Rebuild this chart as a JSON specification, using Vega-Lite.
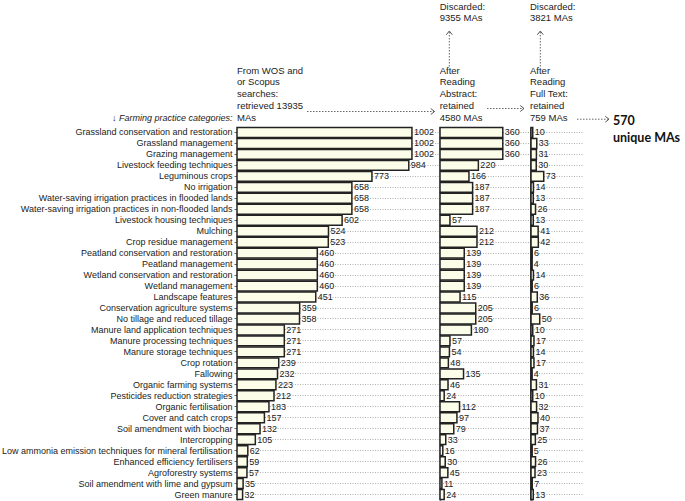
{
  "$schema": "https://vega.github.io/schema/vega-lite/v6.json",
  "padding": {"left": 1, "top": 1, "right": 0, "bottom": 0},
  "autosize": {"type": "pad"},
  "background": "white",
  "bounds": "flush",
  "spacing": 1,
  "config": {"view": {"stroke": null}, "font": "Liberation Sans"},
  "datasets": {
    "bars": [
      {"cat": "Grassland conservation and restoration", "v1": 1002, "v2": 360, "v3": 10},
      {"cat": "Grassland management", "v1": 1002, "v2": 360, "v3": 33},
      {"cat": "Grazing management", "v1": 1002, "v2": 360, "v3": 31},
      {"cat": "Livestock feeding techniques", "v1": 984, "v2": 220, "v3": 30},
      {"cat": "Leguminous crops", "v1": 773, "v2": 166, "v3": 73},
      {"cat": "No irrigation", "v1": 658, "v2": 187, "v3": 14},
      {"cat": "Water-saving irrigation practices in flooded lands", "v1": 658, "v2": 187, "v3": 13},
      {"cat": "Water-saving irrigation practices in non-flooded lands", "v1": 658, "v2": 187, "v3": 26},
      {"cat": "Livestock housing techniques", "v1": 602, "v2": 57, "v3": 13},
      {"cat": "Mulching", "v1": 524, "v2": 212, "v3": 41},
      {"cat": "Crop residue management", "v1": 523, "v2": 212, "v3": 42},
      {"cat": "Peatland conservation and restoration", "v1": 460, "v2": 139, "v3": 6},
      {"cat": "Peatland management", "v1": 460, "v2": 139, "v3": 4},
      {"cat": "Wetland conservation and restoration", "v1": 460, "v2": 139, "v3": 14},
      {"cat": "Wetland management", "v1": 460, "v2": 139, "v3": 6},
      {"cat": "Landscape features", "v1": 451, "v2": 115, "v3": 36},
      {"cat": "Conservation agriculture systems", "v1": 359, "v2": 205, "v3": 6},
      {"cat": "No tillage and reduced tillage", "v1": 358, "v2": 205, "v3": 50},
      {"cat": "Manure land application techniques", "v1": 271, "v2": 180, "v3": 10},
      {"cat": "Manure processing techniques", "v1": 271, "v2": 57, "v3": 17},
      {"cat": "Manure storage techniques", "v1": 271, "v2": 54, "v3": 14},
      {"cat": "Crop rotation", "v1": 239, "v2": 48, "v3": 17},
      {"cat": "Fallowing", "v1": 232, "v2": 135, "v3": 4},
      {"cat": "Organic farming systems", "v1": 223, "v2": 46, "v3": 31},
      {"cat": "Pesticides reduction strategies", "v1": 212, "v2": 24, "v3": 10},
      {"cat": "Organic fertilisation", "v1": 183, "v2": 112, "v3": 32},
      {"cat": "Cover and catch crops", "v1": 157, "v2": 97, "v3": 40},
      {"cat": "Soil amendment with biochar", "v1": 132, "v2": 79, "v3": 37},
      {"cat": "Intercropping", "v1": 105, "v2": 33, "v3": 25},
      {"cat": "Low ammonia emission techniques for mineral fertilisation", "v1": 62, "v2": 16, "v3": 5},
      {"cat": "Enhanced efficiency fertilisers", "v1": 59, "v2": 30, "v3": 26},
      {"cat": "Agroforestry systems", "v1": 57, "v2": 45, "v3": 23},
      {"cat": "Soil amendment with lime and gypsum", "v1": 35, "v2": 11, "v3": 7},
      {"cat": "Green manure", "v1": 32, "v2": 24, "v3": 13}
    ],
    "ann": [
      {"t": "From WOS and", "ax": 0, "ay": 56.3},
      {"t": "or Scopus", "ax": 0, "ay": 44.6},
      {"t": "searches:", "ax": 0, "ay": 32.9},
      {"t": "retrieved 13935", "ax": 0, "ay": 21.2},
      {"t": "MAs", "ax": 0, "ay": 9.5},
      {"t": "After", "ax": 202.7, "ay": 56.3},
      {"t": "Reading", "ax": 202.7, "ay": 44.6},
      {"t": "Abstract:", "ax": 202.7, "ay": 32.9},
      {"t": "retained", "ax": 202.7, "ay": 21.2},
      {"t": "4580 MAs", "ax": 202.7, "ay": 9.5},
      {"t": "After", "ax": 293, "ay": 56.3},
      {"t": "Reading", "ax": 293, "ay": 44.6},
      {"t": "Full Text:", "ax": 293, "ay": 32.9},
      {"t": "retained", "ax": 293, "ay": 21.2},
      {"t": "759 MAs", "ax": 293, "ay": 9.5},
      {"t": "Discarded:", "ax": 202.7, "ay": 120.5},
      {"t": "9355 MAs", "ax": 202.7, "ay": 108.8},
      {"t": "Discarded:", "ax": 293, "ay": 120.5},
      {"t": "3821 MAs", "ax": 293, "ay": 108.8}
    ],
    "cap": [
      {"t": "↓ Farming practice categories:", "ax": -4.4, "ay": 9.5}
    ],
    "big": [
      {"t": "570", "ax": 376, "ay": 6.5},
      {"t": "unique MAs", "ax": 376, "ay": -11.2}
    ],
    "arrows": [
      {"ax": 70, "ax2": 197.5, "ay": 15.5, "ay2": 15.5},
      {"ax": 250, "ax2": 287, "ay": 18.5, "ay2": 18.5},
      {"ax": 340, "ax2": 372, "ay": 7.8, "ay2": 7.8},
      {"ax": 212.3, "ax2": 212.3, "ay": 60.5, "ay2": 96},
      {"ax": 303.3, "ax2": 303.3, "ay": 60.5, "ay2": 96}
    ],
    "heads": [
      {"ax": 197.5, "ay": 15.5, "ang": 0},
      {"ax": 287, "ay": 18.5, "ang": 0},
      {"ax": 372, "ay": 7.8, "ang": 0},
      {"ax": 212.3, "ay": 96, "ang": -90},
      {"ax": 303.3, "ay": 96, "ang": -90}
    ]
  },
  "hconcat": [
    {
      "width": 202,
      "height": 373,
      "layer": [
        {
          "data": {"name": "bars"},
          "encoding": {
            "y": {
              "field": "cat", "type": "nominal", "sort": null,
              "scale": {"paddingInner": 0.1, "paddingOuter": 0.05},
              "axis": {
                "title": null, "labelFontSize": 9, "labelColor": "#222", "labelFont": "Liberation Sans",
                "tickSize": 3, "tickColor": "#666", "domainColor": "#666", "labelPadding": 2,
                "labelLimit": 400,
                "grid": true, "gridDash": [1, 1.5], "gridColor": "#b0b0b0"
              }
            }
          },
          "layer": [
            {
              "mark": {"type": "bar", "fill": "#fbfde9", "stroke": "#222", "strokeWidth": 1.5},
              "encoding": {"x": {"field": "v1", "type": "quantitative", "scale": {"domain": [0, 1157], "nice": false}, "axis": null}}
            },
            {
              "mark": {"type": "text", "align": "left", "baseline": "middle", "dx": 2, "fontSize": 9, "color": "#222"},
              "encoding": {
                "x": {"field": "v1", "type": "quantitative", "scale": {"domain": [0, 1157], "nice": false}, "axis": null},
                "text": {"field": "v1"}
              }
            }
          ]
        },
        {
          "layer": [
            {
              "data": {"name": "arrows"},
              "mark": {"type": "rule", "color": "#666", "strokeWidth": 1, "strokeDash": [1.5, 1.5]},
              "encoding": {
                "x": {"field": "ax", "type": "quantitative", "scale": {"domain": [0, 202], "nice": false, "zero": false}, "axis": null},
                "x2": {"field": "ax2"},
                "y": {"field": "ay", "type": "quantitative", "scale": {"domain": [-373, 0], "nice": false, "zero": false}, "axis": null},
                "y2": {"field": "ay2"}
              }
            },
            {
              "data": {"name": "heads"},
              "mark": {"type": "point", "shape": "M-1,-0.8L0,0L-1,0.8", "filled": false, "stroke": "#555", "strokeWidth": 1, "size": 56, "opacity": 1},
              "encoding": {
                "x": {"field": "ax", "type": "quantitative", "scale": {"domain": [0, 202], "nice": false, "zero": false}, "axis": null},
                "y": {"field": "ay", "type": "quantitative", "scale": {"domain": [-373, 0], "nice": false, "zero": false}, "axis": null},
                "angle": {"field": "ang", "type": "quantitative", "scale": null}
              }
            },
            {
              "data": {"name": "ann"},
              "mark": {"type": "text", "align": "left", "baseline": "middle", "fontSize": 9.5, "color": "#222"},
              "encoding": {
                "x": {"field": "ax", "type": "quantitative", "scale": {"domain": [0, 202], "nice": false, "zero": false}, "axis": null},
                "y": {"field": "ay", "type": "quantitative", "scale": {"domain": [-373, 0], "nice": false, "zero": false}, "axis": null},
                "text": {"field": "t"}
              }
            },
            {
              "data": {"name": "cap"},
              "mark": {"type": "text", "align": "right", "baseline": "middle", "fontSize": 9, "fontStyle": "italic", "color": "#222"},
              "encoding": {
                "x": {"field": "ax", "type": "quantitative", "scale": {"domain": [0, 202], "nice": false, "zero": false}, "axis": null},
                "y": {"field": "ay", "type": "quantitative", "scale": {"domain": [-373, 0], "nice": false, "zero": false}, "axis": null},
                "text": {"field": "t"}
              }
            },
            {
              "data": {"name": "big"},
              "mark": {"type": "text", "align": "left", "baseline": "middle", "fontSize": 12.5, "fontWeight": "bold", "font": "Lato", "color": "#111"},
              "encoding": {
                "x": {"field": "ax", "type": "quantitative", "scale": {"domain": [0, 202], "nice": false, "zero": false}, "axis": null},
                "y": {"field": "ay", "type": "quantitative", "scale": {"domain": [-373, 0], "nice": false, "zero": false}, "axis": null},
                "text": {"field": "t"}
              }
            }
          ]
        }
      ],
      "resolve": {"scale": {"x": "independent", "y": "independent"}}
    },
    {
      "width": 90,
      "height": 373,
      "data": {"name": "bars"},
      "encoding": {
        "y": {
          "field": "cat", "type": "nominal", "sort": null,
          "scale": {"paddingInner": 0.1, "paddingOuter": 0.05},
          "axis": {"title": null, "labels": false, "ticks": false, "domainColor": "#222", "domainWidth": 1.5,
                   "grid": true, "gridDash": [1, 1.5], "gridColor": "#b0b0b0"}
        }
      },
      "layer": [
        {
          "mark": {"type": "bar", "fill": "#fbfde9", "stroke": "#222", "strokeWidth": 1.5},
          "encoding": {"x": {"field": "v2", "type": "quantitative", "scale": {"domain": [0, 516], "nice": false}, "axis": null}}
        },
        {
          "mark": {"type": "text", "align": "left", "baseline": "middle", "dx": 2, "fontSize": 9, "color": "#222"},
          "encoding": {
            "x": {"field": "v2", "type": "quantitative", "scale": {"domain": [0, 516], "nice": false}, "axis": null},
            "text": {"field": "v2"}
          }
        }
      ]
    },
    {
      "width": 52,
      "height": 373,
      "data": {"name": "bars"},
      "encoding": {
        "y": {
          "field": "cat", "type": "nominal", "sort": null,
          "scale": {"paddingInner": 0.1, "paddingOuter": 0.05},
          "axis": {"title": null, "labels": false, "ticks": false, "domainColor": "#111", "domainWidth": 2.5,
                   "grid": true, "gridDash": [1, 1.5], "gridColor": "#b0b0b0"}
        }
      },
      "layer": [
        {
          "mark": {"type": "bar", "fill": "#fbfde9", "stroke": "#222", "strokeWidth": 1.5},
          "encoding": {"x": {"field": "v3", "type": "quantitative", "scale": {"domain": [0, 298], "nice": false}, "axis": null}}
        },
        {
          "mark": {"type": "text", "align": "left", "baseline": "middle", "dx": 2, "fontSize": 9, "color": "#222"},
          "encoding": {
            "x": {"field": "v3", "type": "quantitative", "scale": {"domain": [0, 298], "nice": false}, "axis": null},
            "text": {"field": "v3"}
          }
        }
      ]
    }
  ]
}
